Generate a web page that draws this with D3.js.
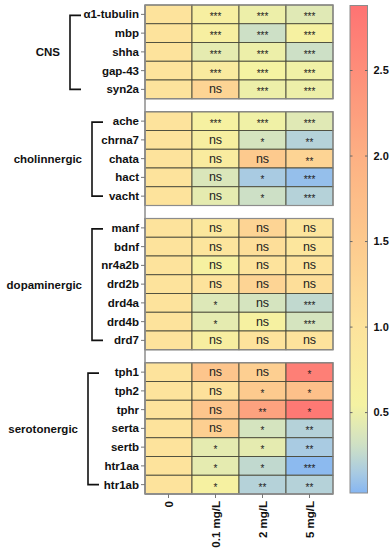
<!DOCTYPE html>
<html>
<head>
<meta charset="utf-8">
<script src="https://cdn.jsdelivr.net/npm/d3@7"></script>
<style>
  body { margin: 0; background: #fff; }
  text { font-family: "Liberation Sans", Arial, sans-serif; }
</style>
</head>
<body>
<svg id="chart" width="391" height="550"></svg>
<script>
// chart data
var groupNames = ["CNS", "cholinnergic", "dopaminergic", "serotonergic"];
var groupGenes = [
  ["α1-tubulin", "mbp", "shha", "gap-43", "syn2a"],
  ["ache", "chrna7", "chata", "hact", "vacht"],
  ["manf", "bdnf", "nr4a2b", "drd2b", "drd4a", "drd4b", "drd7"],
  ["tph1", "tph2", "tphr", "serta", "sertb", "htr1aa", "htr1ab"]
];
var doses = ["0", "0.1 mg/L", "2 mg/L", "5 mg/L"];

// fold change per gene (row) and dose (column)
var foldChange = [
  [1, 0.65, 0.5, 0.42],
  [1, 0.65, 0.3, 0.62],
  [1, 0.45, 0.5, 0.3],
  [1, 0.8, 0.55, 0.52],
  [1, 1.3, 0.5, 0.5],

  [1, 0.6, 0.52, 0.42],
  [1, 0.68, 0.35, 0.2],
  [1, 0.78, 1.5, 1.3],
  [1, 0.38, 0.15, 0.08],
  [1, 0.45, 0.3, 0.2],

  [1, 0.9, 1.3, 0.95],
  [1, 0.95, 1.1, 0.92],
  [1, 0.6, 1.0, 1.0],
  [1, 1.0, 1.3, 1.1],
  [1, 0.4, 0.35, 0.25],
  [1, 0.45, 0.6, 0.35],
  [1, 0.68, 1.0, 1.0],

  [1, 1.6, 1.4, 2.7],
  [1, 1.05, 1.5, 1.7],
  [1, 1.6, 2.2, 2.8],
  [1, 1.4, 0.35, 0.2],
  [1, 0.45, 0.45, 0.15],
  [1, 0.45, 0.25, 0.05],
  [1, 0.6, 0.2, 0.2]
];

var significance = [
  ["", "***", "***", "***"],
  ["", "***", "***", "***"],
  ["", "***", "***", "***"],
  ["", "***", "***", "***"],
  ["", "ns", "***", "***"],

  ["", "***", "***", "***"],
  ["", "ns", "*", "**"],
  ["", "ns", "ns", "**"],
  ["", "ns", "*", "***"],
  ["", "ns", "*", "***"],

  ["", "ns", "ns", "ns"],
  ["", "ns", "ns", "ns"],
  ["", "ns", "ns", "ns"],
  ["", "ns", "ns", "ns"],
  ["", "*", "ns", "***"],
  ["", "*", "ns", "***"],
  ["", "ns", "ns", "ns"],

  ["", "ns", "ns", "*"],
  ["", "ns", "*", "*"],
  ["", "ns", "**", "*"],
  ["", "ns", "*", "**"],
  ["", "*", "*", "**"],
  ["", "*", "*", "***"],
  ["", "*", "**", "**"]
];

var legendTicks = [0.5, 1.0, 1.5, 2.0, 2.5];
var legendRange = [0.03, 2.88];

// layout
var marginTop = 5, rowH = 18.75, gapH = 13;
var plotLeft = 145, plotRight = 333;
var bracketX = [70, 92, 92, 88];

var svg = d3.select("#chart");

var color = d3.scaleLinear()
  .domain([0.03, 0.15, 0.3, 0.55, 1.0, 1.5, 2.0, 2.88])
  .range(["#86b6f2", "#a9cbe2", "#cde0c6", "#f5f3a2", "#fde39c", "#fdca8e", "#fdb083", "#fe7373"])
  .interpolate(d3.interpolateRgb)
  .clamp(true);

var x = d3.scaleBand().domain(doses).range([plotLeft, plotRight]);

// build rows with their y position
var rows = [];
var blocks = [];
var yPos = marginTop;
groupGenes.forEach(function(genes, g) {
  var start = yPos;
  genes.forEach(function(gene) {
    rows.push({ gene: gene, group: g, idx: rows.length, y: yPos });
    yPos += rowH;
  });
  blocks.push({ group: g, y1: start, y2: yPos });
  yPos += gapH;
});
var plotBottom = yPos - gapH;

// cells
var cells = [];
rows.forEach(function(r) {
  doses.forEach(function(d, j) {
    cells.push({ row: r, dose: d, value: foldChange[r.idx][j], sig: significance[r.idx][j] });
  });
});

var cellG = svg.append("g");
cellG.selectAll("rect")
  .data(cells)
  .enter().append("rect")
    .attr("x", function(d) { return x(d.dose); })
    .attr("y", function(d) { return d.row.y; })
    .attr("width", x.bandwidth())
    .attr("height", rowH)
    .attr("fill", function(d) { return color(d.value); })
    .attr("stroke", "#4a4a3a")
    .attr("stroke-width", 0.9);

cellG.selectAll("text")
  .data(cells.filter(function(d) { return d.sig; }))
  .enter().append("text")
    .attr("x", function(d) { return x(d.dose) + x.bandwidth() / 2; })
    .attr("y", function(d) { return d.row.y + rowH / 2; })
    .attr("text-anchor", "middle")
    .attr("dy", function(d) { return d.sig === "ns" ? "0.32em" : "0.6em"; })
    .attr("font-size", function(d) { return d.sig === "ns" ? 12.5 : 10; })
    .attr("fill", "#222")
    .text(function(d) { return d.sig; });

// block outlines
svg.append("g").selectAll("rect")
  .data(blocks)
  .enter().append("rect")
    .attr("x", plotLeft)
    .attr("y", function(d) { return d.y1; })
    .attr("width", plotRight - plotLeft)
    .attr("height", function(d) { return d.y2 - d.y1; })
    .attr("fill", "none")
    .attr("stroke", "#8c8c8c")
    .attr("stroke-width", 1.2);

// left axis line and bottom line
svg.append("line")
  .attr("x1", plotLeft).attr("x2", plotLeft)
  .attr("y1", marginTop).attr("y2", plotBottom)
  .attr("stroke", "#8c8c8c").attr("stroke-width", 1.5);
svg.append("line")
  .attr("x1", plotLeft).attr("x2", plotRight)
  .attr("y1", plotBottom).attr("y2", plotBottom)
  .attr("stroke", "#8c8c8c").attr("stroke-width", 1.5);

// gene labels
var labelG = svg.append("g");
rows.forEach(function(r) {
  var cy = r.y + rowH / 2;
  labelG.append("line")
    .attr("x1", plotLeft - 4).attr("x2", plotLeft)
    .attr("y1", cy).attr("y2", cy)
    .attr("stroke", "#777").attr("stroke-width", 1);
  labelG.append("text")
    .attr("x", plotLeft - 6)
    .attr("y", cy)
    .attr("dy", "0.35em")
    .attr("text-anchor", "end")
    .attr("font-size", 11.5)
    .attr("font-weight", "bold")
    .attr("fill", "#111")
    .text(r.gene);
});

// group brackets and names
blocks.forEach(function(b, g) {
  var ya = b.y1 + rowH / 2 + 1;
  var yb = b.y2 - rowH / 2;
  var bx = bracketX[g];
  svg.append("path")
    .attr("d", "M" + (bx + 11) + "," + ya + "H" + bx + "V" + yb + "H" + (bx + 11))
    .attr("fill", "none")
    .attr("stroke", "#111")
    .attr("stroke-width", 1.6);
  svg.append("text")
    .attr("x", bx - 10)
    .attr("y", (ya + yb) / 2)
    .attr("dy", "0.35em")
    .attr("text-anchor", "end")
    .attr("font-size", 11.5)
    .attr("font-weight", "bold")
    .attr("fill", "#111")
    .text(groupNames[g]);
});

// dose labels (rotated)
doses.forEach(function(d) {
  var cx = x(d) + x.bandwidth() / 2;
  svg.append("line")
    .attr("x1", cx).attr("x2", cx)
    .attr("y1", plotBottom).attr("y2", plotBottom + 4)
    .attr("stroke", "#777");
  svg.append("text")
    .attr("transform", "translate(" + cx + "," + (plotBottom + 7) + ") rotate(-90)")
    .attr("dy", "0.35em")
    .attr("text-anchor", "end")
    .attr("font-size", 11.5)
    .attr("font-weight", "bold")
    .attr("fill", "#111")
    .text(d);
});

// colour bar
var barX = 350, barW = 17.5;
var ly = d3.scaleLinear().domain(legendRange).range([493, 5.5]);
var defs = svg.append("defs");
var grad = defs.append("linearGradient")
  .attr("id", "cbar")
  .attr("x1", 0).attr("x2", 0).attr("y1", 1).attr("y2", 0);
d3.range(0, 1.0001, 0.02).forEach(function(t) {
  var v = legendRange[0] + t * (legendRange[1] - legendRange[0]);
  grad.append("stop").attr("offset", t).attr("stop-color", color(v));
});
svg.append("rect")
  .attr("x", barX).attr("y", ly(legendRange[1]))
  .attr("width", barW).attr("height", ly(legendRange[0]) - ly(legendRange[1]))
  .attr("fill", "url(#cbar)")
  .attr("stroke", "#8c8c8c").attr("stroke-width", 1);

var lg = svg.append("g");
legendTicks.forEach(function(t) {
  lg.append("line")
    .attr("x1", barX).attr("x2", barX + 2.5)
    .attr("y1", ly(t)).attr("y2", ly(t))
    .attr("stroke", "#666");
  lg.append("line")
    .attr("x1", barX + barW - 2.5).attr("x2", barX + barW)
    .attr("y1", ly(t)).attr("y2", ly(t))
    .attr("stroke", "#666");
  lg.append("text")
    .attr("x", barX + barW + 6)
    .attr("y", ly(t))
    .attr("dy", "0.35em")
    .attr("font-size", 11)
    .attr("font-weight", "bold")
    .attr("fill", "#111")
    .text(d3.format(".1f")(t));
});
</script>
</body>
</html>
